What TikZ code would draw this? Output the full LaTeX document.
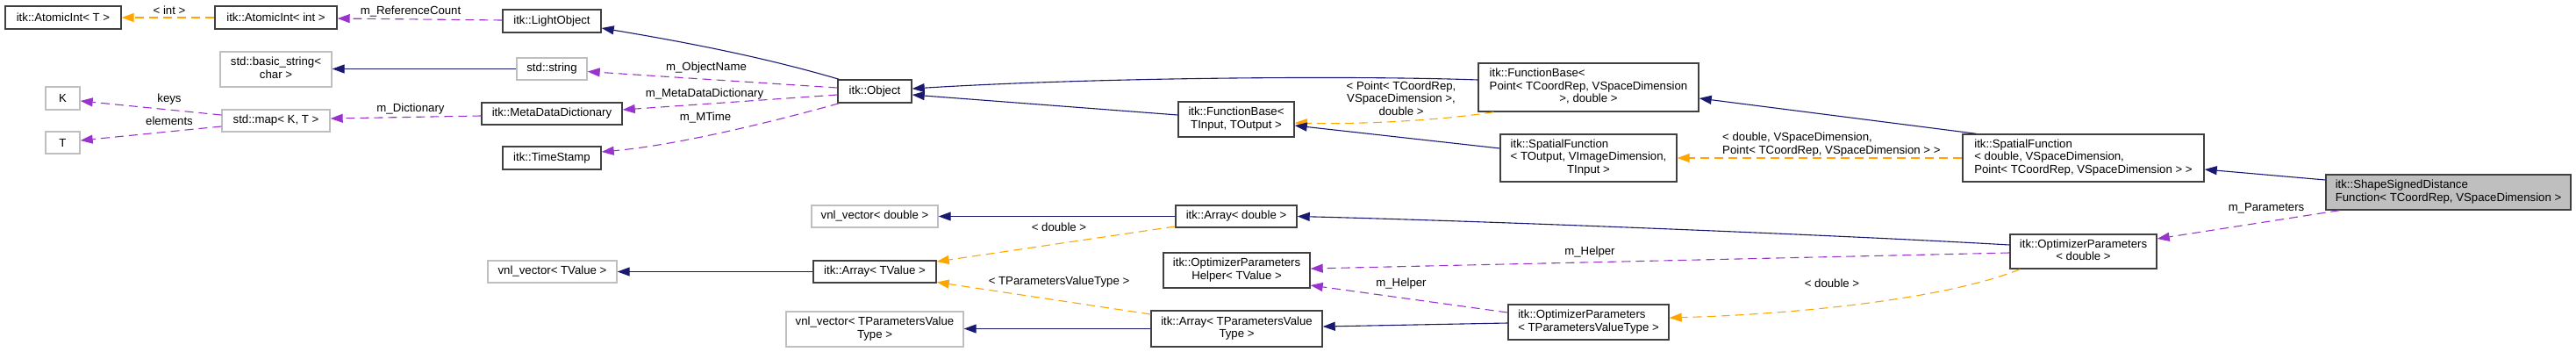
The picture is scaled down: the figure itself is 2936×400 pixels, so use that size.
\documentclass[tikz,border=0pt]{standalone}
\usepackage{fontspec}
\setmainfont{Liberation Sans}
\usetikzlibrary{arrows.meta}
\definecolor{navy}{HTML}{191970}
\definecolor{orch}{HTML}{9A32CD}
\definecolor{orng}{HTML}{FFA500}
\definecolor{bord}{HTML}{404040}
\definecolor{lgray}{HTML}{BFBFBF}
\newcommand\mlines[2]{\begin{tabular}{@{}l@{}}#1\\\multicolumn{1}{@{}c@{}}{#2}\end{tabular}}
\renewcommand\arraystretch{1}
\begin{document}
\begin{tikzpicture}[x=1pt,y=-1pt,
  font=\fontsize{13.2}{14.5}\selectfont,
  box/.style={draw=bord, line width=1.4pt, fill=white, inner sep=0pt, align=center},
  gbox/.style={box, draw=lgray},
  hbox/.style={box, fill=lgray},
  einh/.style={draw=navy, line width=1.1pt, -{Triangle[length=14pt,width=10pt]}},
  euse/.style={draw=orch, line width=1.1pt, dash pattern=on 10pt off 6pt, -{Triangle[length=14pt,width=10pt]}},
  etpl/.style={draw=orng, line width=1.1pt, dash pattern=on 10pt off 6pt, -{Triangle[length=14pt,width=10pt]}},
  lbl/.style={inner sep=0pt}]
\useasboundingbox (0,0) rectangle (2936,400);
% nodes
\node[box, minimum width=132pt, minimum height=26pt] (aT) at (72,20) {itk::AtomicInt< T >};
\node[box, minimum width=139pt, minimum height=26pt] (aI) at (314.5,20) {itk::AtomicInt< int >};
\node[box, minimum width=112pt, minimum height=26pt] (light) at (629,24) {itk::LightObject};
\node[gbox, minimum width=127pt, minimum height=40pt] (bstr) at (314.5,79) {\mlines{std::basic\_string<}{char >}};
\node[gbox, minimum width=39pt, minimum height=26pt] (K) at (71.5,112) {K};
\node[gbox, minimum width=39pt, minimum height=25pt] (T) at (71.5,162.5) {T};
\node[gbox, minimum width=123pt, minimum height=25pt] (map) at (314.5,137.5) {std::map< K, T >};
\node[gbox, minimum width=80pt, minimum height=25pt] (str) at (629,78.5) {std::string};
\node[box, minimum width=160pt, minimum height=25pt] (mdd) at (629,129.5) {itk::MetaDataDictionary};
\node[box, minimum width=112pt, minimum height=26pt] (ts) at (629,180) {itk::TimeStamp};
\node[box, minimum width=84pt, minimum height=26pt] (obj) at (997,104) {itk::Object};
\node[gbox, minimum width=144pt, minimum height=25pt] (vnld) at (997,246.5) {vnl\_vector< double >};
\node[gbox, minimum width=147pt, minimum height=25pt] (vnlv) at (629.5,309.5) {vnl\_vector< TValue >};
\node[box, minimum width=140pt, minimum height=25pt] (arrv) at (997,309.5) {itk::Array< TValue >};
\node[gbox, minimum width=202pt, minimum height=40pt] (vnlp) at (997,375) {\mlines{vnl\_vector< TParametersValue}{Type >}};
\node[box, minimum width=132pt, minimum height=40pt] (fbio) at (1409,136) {\mlines{itk::FunctionBase<}{TInput, TOutput >}};
\node[box, minimum width=138pt, minimum height=25pt] (arrd) at (1409,246.5) {itk::Array< double >};
\node[box, minimum width=167pt, minimum height=40pt] (help) at (1409.5,308) {\mlines{itk::OptimizerParameters}{Helper< TValue >}};
\node[box, minimum width=195pt, minimum height=41pt] (arrp) at (1409.5,374.5) {\mlines{itk::Array< TParametersValue}{Type >}};
\node[box, minimum width=251pt, minimum height=55pt] (fbp) at (1810.5,99.5) {\mlines{itk::FunctionBase<\\Point< TCoordRep, VSpaceDimension}{>, double >}};
\node[box, minimum width=201pt, minimum height=54pt] (sfo) at (1810.5,180) {\mlines{itk::SpatialFunction\\< TOutput, VImageDimension,}{TInput >}};
\node[box, minimum width=183pt, minimum height=40pt] (opp) at (1810.5,367) {\mlines{itk::OptimizerParameters}{< TParametersValueType >}};
\node[box, minimum width=275pt, minimum height=54pt] (sfd) at (2374.5,180) {\mlines{itk::SpatialFunction\\< double, VSpaceDimension,}{Point< TCoordRep, VSpaceDimension > >}};
\node[box, minimum width=167pt, minimum height=39pt] (opd) at (2374.5,286.5) {\mlines{itk::OptimizerParameters}{< double >}};
\node[hbox, minimum width=279pt, minimum height=40pt] (ssdf) at (2790.5,219) {\mlines{itk::ShapeSignedDistance}{Function< TCoordRep, VSpaceDimension >}};
% labels
\node[lbl] (l1) at (193,12) {< int >};
\node[lbl] (l2) at (468,13) {m\_ReferenceCount};
\node[lbl] (l3) at (805,77) {m\_ObjectName};
\node[lbl] (l4) at (803,107) {m\_MetaDataDictionary};
\node[lbl] (l5) at (804,134) {m\_MTime};
\node[lbl] (l6) at (468,124) {m\_Dictionary};
\node[lbl] (l7) at (193,113) {keys};
\node[lbl] (l8) at (193,138) {elements};
\node[lbl, align=center] (l9) at (1597,112) {< Point< TCoordRep,\\VSpaceDimension >,\\double >};
\node[lbl, align=left, anchor=west] (l10) at (1963,164.5) {< double, VSpaceDimension,\\Point< TCoordRep, VSpaceDimension > >};
\node[lbl] (l11) at (2583,237) {m\_Parameters};
\node[lbl] (l12) at (1812,287) {m\_Helper};
\node[lbl] (l13) at (2088,323) {< double >};
\node[lbl] (l14) at (1597,323) {m\_Helper};
\node[lbl] (l15) at (1207,259) {< double >};
\node[lbl] (l16) at (1207,321) {< TParametersValueType >};
% edges
\draw[etpl] (aI.west) -- (aT.east);
\draw[euse] ([yshift=1pt]light.west) -- ([yshift=-1pt]aI.east);
\draw[einh] ([xshift=2pt]obj.north west) .. controls (867,64) and (775,47) .. ([yshift=-8pt]light.east);
\draw[einh] (str.west) -- (str.west -| bstr.east);
\draw[euse] ([yshift=4pt]obj.west) -- ([yshift=-3pt]str.east);
\draw[euse] ([yshift=-4pt]obj.west) -- ([yshift=4.5pt]mdd.east);
\draw[euse] ([xshift=2pt]obj.south west) .. controls (887,137) and (775,165) .. ([yshift=7pt]ts.east);
\draw[euse] ([yshift=-2.5pt]mdd.west) -- ([yshift=2.5pt]map.east);
\draw[euse] ([yshift=6.5pt]map.west) -- ([yshift=-3pt]K.east);
\draw[euse] ([yshift=-6.5pt]map.west) -- ([yshift=2.5pt]T.east);
\draw[einh] ([yshift=8.5pt]fbp.west) .. controls (1550,86) and (1250,88) .. ([yshift=3pt]obj.east);
\draw[einh] ([yshift=5pt]fbio.west) -- ([yshift=-4pt]obj.east);
\draw[etpl] ([xshift=18pt]fbp.south west) .. controls (1650,136) and (1560,142) .. ([yshift=-4pt]fbio.east);
\draw[einh] ([yshift=11pt]sfo.west) -- ([yshift=-7pt]fbio.east);
\draw[etpl] (sfd.west) -- (sfo.east);
\draw[einh] ([xshift=16pt]sfd.north west) -- ([yshift=-12.5pt]fbp.east);
\draw[einh] ([yshift=14pt]ssdf.west) -- ([yshift=-13pt]sfd.east);
\draw[euse] ([xshift=16pt]ssdf.south west) -- ([yshift=14.5pt]opd.east);
\draw[einh] ([yshift=7.5pt]opd.west) .. controls (2100,268) and (1700,252) .. (arrd.east);
\draw[euse] ([yshift=-1.5pt]opd.west) -- ([yshift=2pt]help.east);
\draw[etpl] ([xshift=12pt]opd.south west) .. controls (2220,340) and (2050,358) .. ([yshift=5pt]opp.east);
\draw[einh] ([yshift=-1pt]opp.west) -- ([yshift=2.5pt]arrp.east);
\draw[euse] ([yshift=11pt]opp.west) -- ([yshift=-17pt]help.east);
\draw[einh] (arrd.west) -- (vnld.east);
\draw[etpl] ([yshift=-11.5pt]arrd.west) -- ([yshift=11.5pt]arrv.east);
\draw[etpl] ([yshift=16.5pt]arrp.west) -- ([yshift=-12pt]arrv.east);
\draw[einh] (arrp.west) -- (arrp.west -| vnlp.east);
\draw[einh] (arrv.west) -- (vnlv.east);
\end{tikzpicture}
\end{document}
